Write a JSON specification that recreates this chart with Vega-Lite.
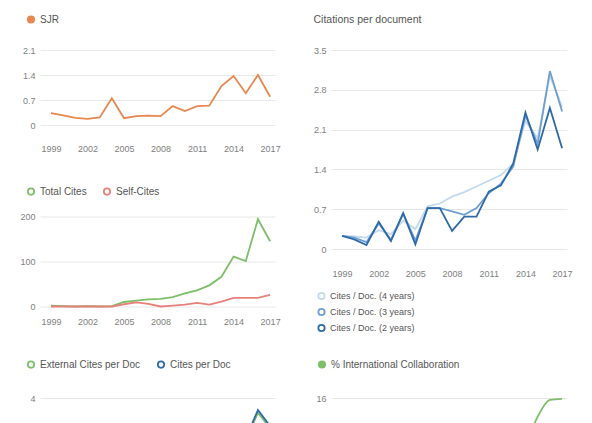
{
  "$schema": "https://vega.github.io/schema/vega-lite/v6.json",
  "background": "white",
  "padding": {"left": 19, "top": 14, "right": 10, "bottom": 0},
  "config": {
    "font": "Liberation Sans",
    "view": {"stroke": null},
    "axis": {"labelFont": "Liberation Sans", "labelFontSize": 9, "labelColor": "#808080", "ticks": false, "domain": false, "title": null, "gridColor": "#e8e8e8"},
    "axisX": {"grid": false, "labelFlush": false},
    "axisY": {"grid": true, "labelPadding": 5},
    "legend": {"orient": "none", "title": null, "labelFont": "Liberation Sans", "labelFontSize": 10, "labelColor": "#555555", "symbolType": "circle", "symbolSize": 40, "labelOffset": 4, "columnPadding": 13, "direction": "horizontal"},
    "line": {"strokeWidth": 1.8},
    "title": {"font": "Liberation Sans", "fontSize": 10.5, "fontWeight": "normal", "color": "#555555", "anchor": "start", "frame": "bounds", "offset": 21}
  },
  "datasets": {
    "sjr": [
      {"year": 1999, "series": "SJR", "value": 0.33}, {"year": 2000, "series": "SJR", "value": 0.27}, {"year": 2001, "series": "SJR", "value": 0.2},
      {"year": 2002, "series": "SJR", "value": 0.17}, {"year": 2003, "series": "SJR", "value": 0.21}, {"year": 2004, "series": "SJR", "value": 0.75},
      {"year": 2005, "series": "SJR", "value": 0.19}, {"year": 2006, "series": "SJR", "value": 0.25}, {"year": 2007, "series": "SJR", "value": 0.26},
      {"year": 2008, "series": "SJR", "value": 0.25}, {"year": 2009, "series": "SJR", "value": 0.53}, {"year": 2010, "series": "SJR", "value": 0.39},
      {"year": 2011, "series": "SJR", "value": 0.53}, {"year": 2012, "series": "SJR", "value": 0.54}, {"year": 2013, "series": "SJR", "value": 1.09},
      {"year": 2014, "series": "SJR", "value": 1.37}, {"year": 2015, "series": "SJR", "value": 0.89}, {"year": 2016, "series": "SJR", "value": 1.4},
      {"year": 2017, "series": "SJR", "value": 0.79}
    ],
    "cites": [
      {"year": 1999, "series": "Total Cites", "value": 2}, {"year": 2000, "series": "Total Cites", "value": 1}, {"year": 2001, "series": "Total Cites", "value": 0},
      {"year": 2002, "series": "Total Cites", "value": 1}, {"year": 2003, "series": "Total Cites", "value": 0}, {"year": 2004, "series": "Total Cites", "value": 1},
      {"year": 2005, "series": "Total Cites", "value": 10}, {"year": 2006, "series": "Total Cites", "value": 13}, {"year": 2007, "series": "Total Cites", "value": 16},
      {"year": 2008, "series": "Total Cites", "value": 17}, {"year": 2009, "series": "Total Cites", "value": 21}, {"year": 2010, "series": "Total Cites", "value": 29},
      {"year": 2011, "series": "Total Cites", "value": 36}, {"year": 2012, "series": "Total Cites", "value": 47}, {"year": 2013, "series": "Total Cites", "value": 66},
      {"year": 2014, "series": "Total Cites", "value": 111}, {"year": 2015, "series": "Total Cites", "value": 101}, {"year": 2016, "series": "Total Cites", "value": 194},
      {"year": 2017, "series": "Total Cites", "value": 145},
      {"year": 1999, "series": "Self-Cites", "value": 0}, {"year": 2000, "series": "Self-Cites", "value": 0}, {"year": 2001, "series": "Self-Cites", "value": 0},
      {"year": 2002, "series": "Self-Cites", "value": 0}, {"year": 2003, "series": "Self-Cites", "value": 0}, {"year": 2004, "series": "Self-Cites", "value": 0},
      {"year": 2005, "series": "Self-Cites", "value": 5}, {"year": 2006, "series": "Self-Cites", "value": 9}, {"year": 2007, "series": "Self-Cites", "value": 6},
      {"year": 2008, "series": "Self-Cites", "value": 0}, {"year": 2009, "series": "Self-Cites", "value": 2}, {"year": 2010, "series": "Self-Cites", "value": 4},
      {"year": 2011, "series": "Self-Cites", "value": 8}, {"year": 2012, "series": "Self-Cites", "value": 4}, {"year": 2013, "series": "Self-Cites", "value": 11},
      {"year": 2014, "series": "Self-Cites", "value": 19}, {"year": 2015, "series": "Self-Cites", "value": 19}, {"year": 2016, "series": "Self-Cites", "value": 19},
      {"year": 2017, "series": "Self-Cites", "value": 26}
    ],
    "cpd": [
      {"year": 1999, "series": "Cites / Doc. (4 years)", "value": 0.23}, {"year": 2000, "series": "Cites / Doc. (4 years)", "value": 0.22}, {"year": 2001, "series": "Cites / Doc. (4 years)", "value": 0.2},
      {"year": 2002, "series": "Cites / Doc. (4 years)", "value": 0.33}, {"year": 2003, "series": "Cites / Doc. (4 years)", "value": 0.26}, {"year": 2004, "series": "Cites / Doc. (4 years)", "value": 0.5},
      {"year": 2005, "series": "Cites / Doc. (4 years)", "value": 0.35}, {"year": 2006, "series": "Cites / Doc. (4 years)", "value": 0.75}, {"year": 2007, "series": "Cites / Doc. (4 years)", "value": 0.8},
      {"year": 2008, "series": "Cites / Doc. (4 years)", "value": 0.92}, {"year": 2009, "series": "Cites / Doc. (4 years)", "value": 1.0}, {"year": 2010, "series": "Cites / Doc. (4 years)", "value": 1.1},
      {"year": 2011, "series": "Cites / Doc. (4 years)", "value": 1.2}, {"year": 2012, "series": "Cites / Doc. (4 years)", "value": 1.3}, {"year": 2013, "series": "Cites / Doc. (4 years)", "value": 1.5},
      {"year": 2014, "series": "Cites / Doc. (4 years)", "value": 2.25}, {"year": 2015, "series": "Cites / Doc. (4 years)", "value": 1.95}, {"year": 2016, "series": "Cites / Doc. (4 years)", "value": 3.05},
      {"year": 2017, "series": "Cites / Doc. (4 years)", "value": 2.5},
      {"year": 1999, "series": "Cites / Doc. (3 years)", "value": 0.23}, {"year": 2000, "series": "Cites / Doc. (3 years)", "value": 0.2}, {"year": 2001, "series": "Cites / Doc. (3 years)", "value": 0.12},
      {"year": 2002, "series": "Cites / Doc. (3 years)", "value": 0.45}, {"year": 2003, "series": "Cites / Doc. (3 years)", "value": 0.16}, {"year": 2004, "series": "Cites / Doc. (3 years)", "value": 0.62},
      {"year": 2005, "series": "Cites / Doc. (3 years)", "value": 0.15}, {"year": 2006, "series": "Cites / Doc. (3 years)", "value": 0.72}, {"year": 2007, "series": "Cites / Doc. (3 years)", "value": 0.72},
      {"year": 2008, "series": "Cites / Doc. (3 years)", "value": 0.66}, {"year": 2009, "series": "Cites / Doc. (3 years)", "value": 0.6}, {"year": 2010, "series": "Cites / Doc. (3 years)", "value": 0.72},
      {"year": 2011, "series": "Cites / Doc. (3 years)", "value": 0.98}, {"year": 2012, "series": "Cites / Doc. (3 years)", "value": 1.15}, {"year": 2013, "series": "Cites / Doc. (3 years)", "value": 1.45},
      {"year": 2014, "series": "Cites / Doc. (3 years)", "value": 2.35}, {"year": 2015, "series": "Cites / Doc. (3 years)", "value": 1.85}, {"year": 2016, "series": "Cites / Doc. (3 years)", "value": 3.13},
      {"year": 2017, "series": "Cites / Doc. (3 years)", "value": 2.42},
      {"year": 1999, "series": "Cites / Doc. (2 years)", "value": 0.23}, {"year": 2000, "series": "Cites / Doc. (2 years)", "value": 0.17}, {"year": 2001, "series": "Cites / Doc. (2 years)", "value": 0.07},
      {"year": 2002, "series": "Cites / Doc. (2 years)", "value": 0.48}, {"year": 2003, "series": "Cites / Doc. (2 years)", "value": 0.14}, {"year": 2004, "series": "Cites / Doc. (2 years)", "value": 0.63},
      {"year": 2005, "series": "Cites / Doc. (2 years)", "value": 0.08}, {"year": 2006, "series": "Cites / Doc. (2 years)", "value": 0.72}, {"year": 2007, "series": "Cites / Doc. (2 years)", "value": 0.72},
      {"year": 2008, "series": "Cites / Doc. (2 years)", "value": 0.32}, {"year": 2009, "series": "Cites / Doc. (2 years)", "value": 0.57}, {"year": 2010, "series": "Cites / Doc. (2 years)", "value": 0.57},
      {"year": 2011, "series": "Cites / Doc. (2 years)", "value": 1.01}, {"year": 2012, "series": "Cites / Doc. (2 years)", "value": 1.12}, {"year": 2013, "series": "Cites / Doc. (2 years)", "value": 1.5},
      {"year": 2014, "series": "Cites / Doc. (2 years)", "value": 2.4}, {"year": 2015, "series": "Cites / Doc. (2 years)", "value": 1.75}, {"year": 2016, "series": "Cites / Doc. (2 years)", "value": 2.48},
      {"year": 2017, "series": "Cites / Doc. (2 years)", "value": 1.77}
    ],
    "ext": [
      {"year": 1999, "series": "External Cites per Doc", "value": 0.2}, {"year": 2000, "series": "External Cites per Doc", "value": 0.18}, {"year": 2001, "series": "External Cites per Doc", "value": 0.1},
      {"year": 2002, "series": "External Cites per Doc", "value": 0.4}, {"year": 2003, "series": "External Cites per Doc", "value": 0.14}, {"year": 2004, "series": "External Cites per Doc", "value": 0.55},
      {"year": 2005, "series": "External Cites per Doc", "value": 0.12}, {"year": 2006, "series": "External Cites per Doc", "value": 0.62}, {"year": 2007, "series": "External Cites per Doc", "value": 0.66},
      {"year": 2008, "series": "External Cites per Doc", "value": 0.63}, {"year": 2009, "series": "External Cites per Doc", "value": 0.56}, {"year": 2010, "series": "External Cites per Doc", "value": 0.66},
      {"year": 2011, "series": "External Cites per Doc", "value": 0.9}, {"year": 2012, "series": "External Cites per Doc", "value": 1.08}, {"year": 2013, "series": "External Cites per Doc", "value": 1.36},
      {"year": 2014, "series": "External Cites per Doc", "value": 2.2}, {"year": 2015, "series": "External Cites per Doc", "value": 1.72}, {"year": 2016, "series": "External Cites per Doc", "value": 3.22},
      {"year": 2017, "series": "External Cites per Doc", "value": 2.38},
      {"year": 1999, "series": "Cites per Doc", "value": 0.23}, {"year": 2000, "series": "Cites per Doc", "value": 0.2}, {"year": 2001, "series": "Cites per Doc", "value": 0.12},
      {"year": 2002, "series": "Cites per Doc", "value": 0.45}, {"year": 2003, "series": "Cites per Doc", "value": 0.16}, {"year": 2004, "series": "Cites per Doc", "value": 0.62},
      {"year": 2005, "series": "Cites per Doc", "value": 0.15}, {"year": 2006, "series": "Cites per Doc", "value": 0.72}, {"year": 2007, "series": "Cites per Doc", "value": 0.72},
      {"year": 2008, "series": "Cites per Doc", "value": 0.66}, {"year": 2009, "series": "Cites per Doc", "value": 0.6}, {"year": 2010, "series": "Cites per Doc", "value": 0.72},
      {"year": 2011, "series": "Cites per Doc", "value": 0.98}, {"year": 2012, "series": "Cites per Doc", "value": 1.15}, {"year": 2013, "series": "Cites per Doc", "value": 1.45},
      {"year": 2014, "series": "Cites per Doc", "value": 2.35}, {"year": 2015, "series": "Cites per Doc", "value": 1.85}, {"year": 2016, "series": "Cites per Doc", "value": 3.36},
      {"year": 2017, "series": "Cites per Doc", "value": 2.5}
    ],
    "collab": [
      {"year": 1999, "series": "% International Collaboration", "value": 0}, {"year": 2000, "series": "% International Collaboration", "value": 0}, {"year": 2001, "series": "% International Collaboration", "value": 0},
      {"year": 2002, "series": "% International Collaboration", "value": 0}, {"year": 2003, "series": "% International Collaboration", "value": 0}, {"year": 2004, "series": "% International Collaboration", "value": 0},
      {"year": 2005, "series": "% International Collaboration", "value": 0}, {"year": 2006, "series": "% International Collaboration", "value": 3.2}, {"year": 2007, "series": "% International Collaboration", "value": 2.1},
      {"year": 2008, "series": "% International Collaboration", "value": 0}, {"year": 2009, "series": "% International Collaboration", "value": 4.5}, {"year": 2010, "series": "% International Collaboration", "value": 2.6},
      {"year": 2011, "series": "% International Collaboration", "value": 5.3}, {"year": 2012, "series": "% International Collaboration", "value": 7.1}, {"year": 2013, "series": "% International Collaboration", "value": 3.8},
      {"year": 2014, "series": "% International Collaboration", "value": 6.2}, {"year": 2015, "series": "% International Collaboration", "value": 12}, {"year": 2016, "series": "% International Collaboration", "value": 15.6},
      {"year": 2017, "series": "% International Collaboration", "value": 15.8}
    ]
  },
  "spacing": 32,
  "resolve": {"scale": {"color": "independent"}, "legend": {"color": "independent"}},
  "hconcat": [
    {
      "bounds": "flush",
      "spacing": 91.5,
      "resolve": {"scale": {"color": "independent"}, "legend": {"color": "independent"}},
      "vconcat": [
        {
          "width": 235, "height": 75,
          "data": {"name": "sjr"},
          "mark": {"type": "line"},
          "encoding": {
            "x": {"field": "year", "type": "quantitative", "scale": {"domain": [1998.1, 2017.4], "nice": false, "zero": false}, "axis": {"values": [1999, 2002, 2005, 2008, 2011, 2014, 2017], "format": "d", "labelPadding": 19}},
            "y": {"field": "value", "type": "quantitative", "scale": {"domain": [0, 2.1], "nice": false}, "axis": {"values": [0, 0.7, 1.4, 2.1], "labelExpr": "'' + datum.value"}},
            "color": {"field": "series", "type": "nominal", "scale": {"domain": ["SJR"], "range": ["#e8874f"]}, "legend": {"legendX": -14, "legendY": -35.5, "symbolFillColor": "#e8874f"}}
          }
        },
        {
          "width": 235, "height": 90,
          "data": {"name": "cites"},
          "mark": {"type": "line"},
          "encoding": {
            "x": {"field": "year", "type": "quantitative", "scale": {"domain": [1998.1, 2017.4], "nice": false, "zero": false}, "axis": {"values": [1999, 2002, 2005, 2008, 2011, 2014, 2017], "format": "d", "labelPadding": 11}},
            "y": {"field": "value", "type": "quantitative", "scale": {"domain": [0, 200], "nice": false}, "axis": {"values": [0, 100, 200]}},
            "color": {"field": "series", "type": "nominal", "scale": {"domain": ["Total Cites", "Self-Cites"], "range": ["#7dbf68", "#e8807a"]}, "legend": {"legendX": -14, "legendY": -30}}
          }
        },
        {
          "width": 235, "height": 25,
          "data": {"name": "ext"},
          "mark": {"type": "line", "clip": true},
          "encoding": {
            "x": {"field": "year", "type": "quantitative", "scale": {"domain": [1998.1, 2017.4], "nice": false, "zero": false}, "axis": null},
            "y": {"field": "value", "type": "quantitative", "scale": {"domain": [2.6667, 4], "nice": false, "zero": false}, "axis": {"values": [4]}},
            "color": {"field": "series", "type": "nominal", "scale": {"domain": ["External Cites per Doc", "Cites per Doc"], "range": ["#7dbf68", "#2f6aa8"]}, "legend": {"legendX": -14, "legendY": -38.5}}
          }
        }
      ]
    },
    {
      "bounds": "flush",
      "spacing": 149,
      "resolve": {"scale": {"color": "independent"}, "legend": {"color": "independent"}},
      "vconcat": [
        {
          "width": 236, "height": 199,
          "title": "Citations per document",
          "data": {"name": "cpd"},
          "mark": {"type": "line"},
          "encoding": {
            "x": {"field": "year", "type": "quantitative", "scale": {"domain": [1998.1, 2017.4], "nice": false, "zero": false}, "axis": {"values": [1999, 2002, 2005, 2008, 2011, 2014, 2017], "format": "d", "labelPadding": 20}},
            "y": {"field": "value", "type": "quantitative", "scale": {"domain": [0, 3.5], "nice": false}, "axis": {"values": [0, 0.7, 1.4, 2.1, 2.8, 3.5], "labelExpr": "'' + datum.value"}},
            "color": {"field": "series", "type": "nominal", "scale": {"domain": ["Cites / Doc. (4 years)", "Cites / Doc. (3 years)", "Cites / Doc. (2 years)"], "range": ["#c3d9ee", "#6f9fd2", "#2e69a8"]}, "legend": {"direction": "vertical", "legendX": -14, "legendY": 241.5, "labelFontSize": 9, "rowPadding": 1}}
          }
        },
        {
          "width": 236, "height": 25,
          "data": {"name": "collab"},
          "mark": {"type": "line", "clip": true, "interpolate": "monotone"},
          "encoding": {
            "x": {"field": "year", "type": "quantitative", "scale": {"domain": [1998.1, 2017.4], "nice": false, "zero": false}, "axis": null},
            "y": {"field": "value", "type": "quantitative", "scale": {"domain": [10.6667, 16], "nice": false, "zero": false}, "axis": {"values": [16]}},
            "color": {"field": "series", "type": "nominal", "scale": {"domain": ["% International Collaboration"], "range": ["#7dbf68"]}, "legend": {"legendX": -14, "legendY": -38.5, "symbolFillColor": "#7dbf68"}}
          }
        }
      ]
    }
  ]
}
